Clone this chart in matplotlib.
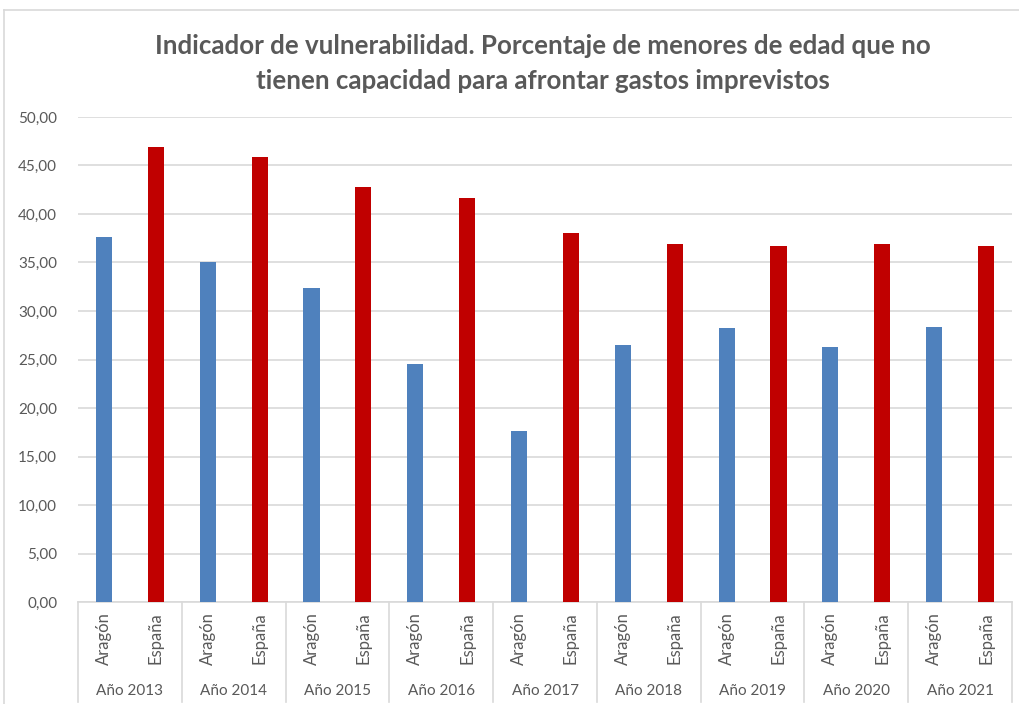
import matplotlib.pyplot as plt
from matplotlib.lines import Line2D
import numpy as np

years = ['Año 2013', 'Año 2014', 'Año 2015', 'Año 2016', 'Año 2017',
         'Año 2018', 'Año 2019', 'Año 2020', 'Año 2021']
regions = ['Aragón', 'España']
aragon = [37.6, 35.0, 32.4, 24.5, 17.6, 26.5, 28.2, 26.3, 28.4]
espana = [46.9, 45.9, 42.8, 41.6, 38.0, 36.9, 36.7, 36.9, 36.7]

plt.rcParams['font.family'] = ['Lato', 'DejaVu Sans']
gray_txt = '#595959'
grid_c = '#D9D9D9'

fig = plt.figure(figsize=(10.19, 7.04), dpi=100)
ax = fig.add_axes([78 / 1019, 1 - 602 / 704, (1012 - 78) / 1019, (602 - 117) / 704])

n = len(years)
x_ar = np.arange(n) * 2
x_es = x_ar + 1
w = 0.31
ax.bar(x_ar, aragon, width=w, color='#4F81BD', zorder=3)
ax.bar(x_es, espana, width=w, color='#C00000', zorder=3)

ax.set_xlim(-0.5, 2 * n - 0.5)
ax.set_ylim(0, 50)
ax.set_yticks(np.arange(0, 50.1, 5))
ax.set_yticklabels([f'{v:.2f}'.replace('.', ',') for v in np.arange(0, 50.1, 5)],
                   fontsize=11, color=gray_txt)
ax.tick_params(axis='y', length=0, pad=15)
ax.set_xticks([])
ax.grid(axis='y', color=grid_c, linewidth=1.2, zorder=0)
for s in ['top', 'right', 'left']:
    ax.spines[s].set_visible(False)
ax.spines['bottom'].set_color(grid_c)
ax.spines['bottom'].set_linewidth(1.2)

# multi-level category axis
trans = ax.get_xaxis_transform()
px = 1 / (602 - 117)  # axes fraction per pixel vertically
for i in range(n):
    for xx, lab in [(x_ar[i], regions[0]), (x_es[i], regions[1])]:
        ax.text(xx, -10 * px, lab, rotation=90, ha='center', va='top',
                fontsize=12, color=gray_txt, transform=trans, clip_on=False)
    ax.text(x_ar[i] + 0.5, -89 * px, years[i], ha='center', va='center',
            fontsize=11, color=gray_txt, transform=trans, clip_on=False)
for k in range(n + 1):
    xb = 2 * k - 0.5
    ax.plot([xb, xb], [0, -100 * px], color=grid_c, linewidth=1.2,
            transform=trans, clip_on=False)

fig.suptitle('Indicador de vulnerabilidad. Porcentaje de menores de edad que no\n'
             'tienen capacidad para afrontar gastos imprevistos',
             x=543 / 1019, y=1 - 34 / 704, va='top', fontsize=18.6, fontweight='bold',
             color=gray_txt, linespacing=1.55)

# chart border
fig.add_artist(Line2D([4 / 1019, 4 / 1019], [0, 1 - 10 / 704], color=grid_c, linewidth=1.2))
fig.add_artist(Line2D([4 / 1019, 1], [1 - 10 / 704, 1 - 10 / 704], color=grid_c, linewidth=1.2))

fig.savefig('out.png', dpi=100, facecolor='white')
